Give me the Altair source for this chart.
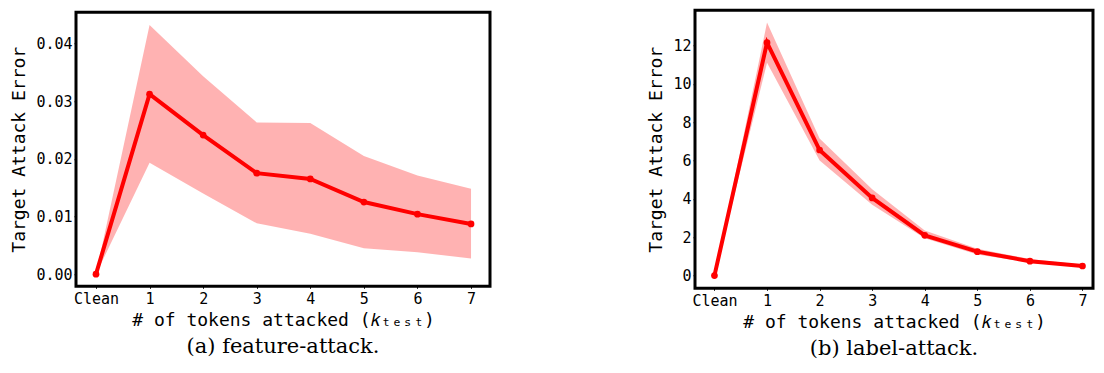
import altair as alt
import pandas as pd

# ---- data ----
k_values = [0, 1, 2, 3, 4, 5, 6, 7]

feat_mean = [0.0, 0.0312, 0.0241, 0.0175, 0.0165, 0.0125, 0.0104, 0.0087]
feat_upper = [0.0, 0.0432, 0.0343, 0.0263, 0.0262, 0.0205, 0.0171, 0.0148]
feat_lower = [0.0, 0.0193, 0.0140, 0.0088, 0.0070, 0.0045, 0.0038, 0.0027]

label_mean = [0.0, 12.15, 6.55, 4.05, 2.10, 1.25, 0.75, 0.50]
label_upper = [0.0, 13.20, 7.15, 4.50, 2.35, 1.40, 0.86, 0.56]
label_lower = [0.0, 11.10, 6.00, 3.70, 1.95, 1.10, 0.68, 0.44]

feat_yticks = [0.0, 0.01, 0.02, 0.03, 0.04]
label_yticks = [0, 2, 4, 6, 8, 10, 12]

MONO = "DejaVu Sans Mono"
SERIF = "DejaVu Serif"
XTITLE = "# of tokens attacked (𝑘ₜₑₛₜ)"


def panel(mean, upper, lower, xdom, ydom, yticks, yfmt, caption, w, h):
    df = pd.DataFrame({"k": k_values, "mean": mean, "up": upper, "lo": lower})
    xenc = alt.X(
        "k:Q",
        scale=alt.Scale(domain=xdom, nice=False, zero=False),
        axis=alt.Axis(
            values=k_values,
            labelExpr="datum.value == 0 ? 'Clean' : datum.label",
            title=XTITLE,
            grid=False,
            domain=False,
            tickSize=2,
            tickColor="black",
            labelPadding=3,
            titlePadding=5,
            labelFont=MONO,
            labelFontSize=15,
            labelColor="black",
            titleFont=MONO,
            titleFontSize=18,
            titleFontWeight="normal",
            titleColor="black",
            labelFlush=False,
        ),
    )
    yscale = alt.Scale(domain=ydom, nice=False, zero=False)
    yaxis = alt.Axis(
        values=yticks,
        format=yfmt,
        title="Target Attack Error",
        grid=False,
        domain=False,
        tickSize=2,
        tickColor="black",
        labelPadding=2,
        titlePadding=7,
        labelFont=MONO,
        labelFontSize=15,
        labelColor="black",
        titleFont=MONO,
        titleFontSize=18,
        titleFontWeight="normal",
        titleColor="black",
        labelFlush=False,
    )
    base = alt.Chart(df).encode(x=xenc)
    area = base.mark_area(color="#ff0000", opacity=0.3).encode(
        y=alt.Y("lo:Q", scale=yscale, axis=yaxis), y2="up:Q"
    )
    line = base.mark_line(color="#ff0000", strokeWidth=4).encode(
        y=alt.Y("mean:Q", scale=yscale)
    )
    pts = base.mark_point(filled=True, color="#ff0000", size=45, opacity=1).encode(
        y=alt.Y("mean:Q", scale=yscale)
    )
    return alt.layer(area, line, pts).properties(
        width=w,
        height=h,
        title=alt.TitleParams(
            caption,
            orient="bottom",
            font=SERIF,
            fontSize=21,
            fontWeight="normal",
            color="black",
            offset=7,
        ),
    )


left = panel(feat_mean, feat_upper, feat_lower, [-0.373, 7.354], [-0.0021, 0.0454],
             feat_yticks, ".2f", "(a) feature-attack.", 414, 274)
right = panel(label_mean, label_upper, label_lower, [-0.37, 7.2], [-0.66, 13.84],
              label_yticks, "d", "(b) label-attack.", 398, 278)

chart = (
    alt.hconcat(left, right, spacing=154, center=True)
    .properties(padding={"left": 1, "top": 0, "right": 0, "bottom": 0})
    .configure(background="white")
    .configure_view(stroke="black", strokeWidth=3)
)

chart.save("out.html", embed_options={"renderer": "svg", "actions": False})
